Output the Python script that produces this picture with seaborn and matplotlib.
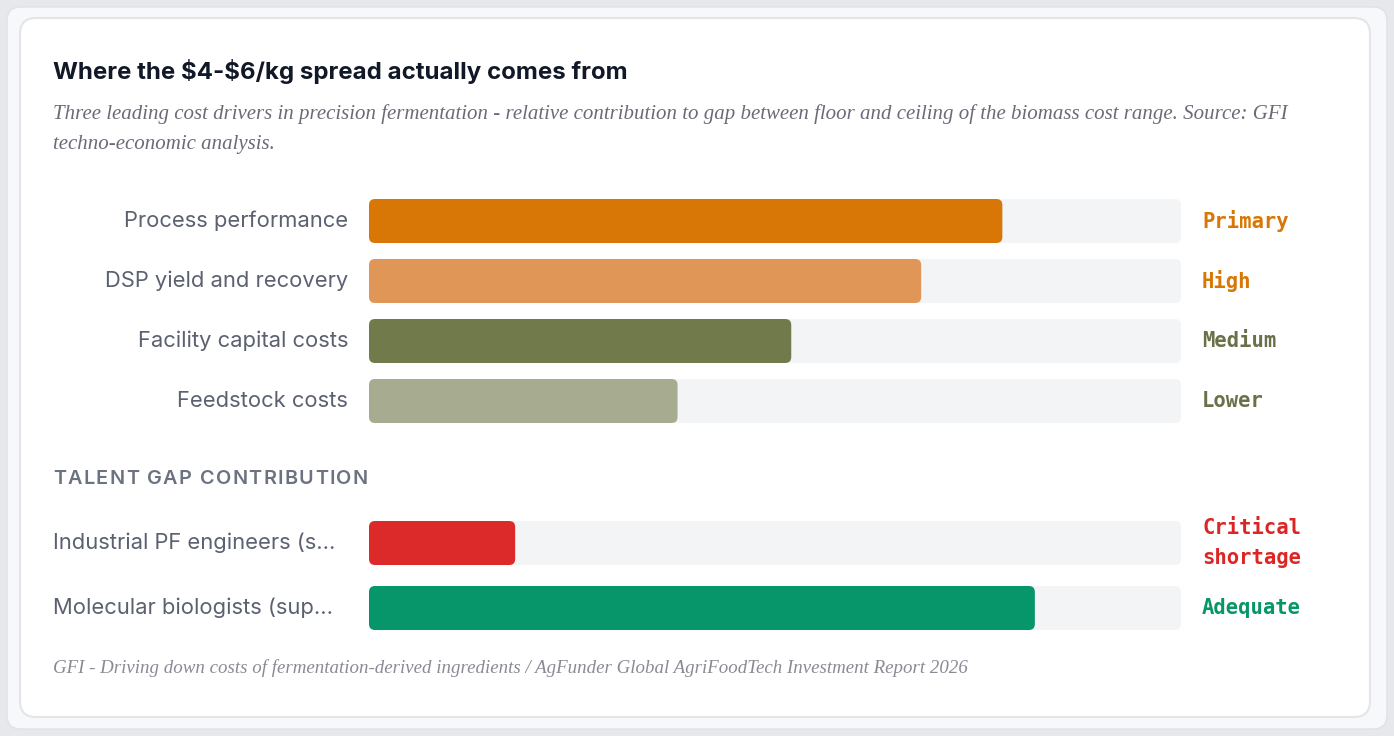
import numpy as np
import pandas as pd
import matplotlib
matplotlib.use("Agg")
import matplotlib.pyplot as plt
import seaborn as sns
from matplotlib.patches import FancyBboxPatch

# chart data
drivers = ["Process performance", "DSP yield and recovery", "Facility capital costs", "Feedstock costs"]
driver_values = [78, 68, 52, 38]
driver_levels = ["Primary", "High", "Medium", "Lower"]
driver_colors = ["#d97706", "#e09657", "#717a4a", "#a7ab8f"]
driver_level_colors = ["#d97706", "#d97706", "#6b7048", "#6b7048"]

talent = ["Industrial PF engineers (s...", "Molecular biologists (sup..."]
talent_values = [18, 82]
talent_levels = ["Critical\nshortage", "Adequate"]
talent_colors = ["#dc2a2a", "#079669"]
talent_level_colors = ["#dc2626", "#079669"]

title = r"Where the \$4-\$6/kg spread actually comes from"
subtitle_1 = ("Three leading cost drivers in precision fermentation - relative contribution to gap "
              "between floor and ceiling of the biomass cost range. Source: GFI")
subtitle_2 = "techno-economic analysis."
section = "TALENT GAP CONTRIBUTION"
footer = "GFI - Driving down costs of fermentation-derived ingredients / AgFunder Global AgriFoodTech Investment Report 2026"

W, H = 1394, 736
TRACK = "#f3f4f6"
SANS = ["Inter", "DejaVu Sans"]
SERIF = ["Liberation Serif", "DejaVu Serif"]
MONO = ["DejaVu Sans Mono"]

sns.set_theme(style="white")
plt.rcParams["font.family"] = SANS

fig = plt.figure(figsize=(W / 100, H / 100), dpi=100)
fig.patch.set_facecolor("#e6e8eb")

# background layer in pixel coordinates
bg = fig.add_axes([0, 0, 1, 1], zorder=0)
bg.set_xlim(0, W)
bg.set_ylim(H, 0)
bg.axis("off")
bg.add_patch(FancyBboxPatch((7, 7), W - 14, H - 14, boxstyle="round,pad=0,rounding_size=14",
                            fc="#f7f8f9", ec="#dfe2e6", lw=1))
bg.add_patch(FancyBboxPatch((20, 18), 1350, 699, boxstyle="round,pad=0,rounding_size=16",
                            fc="white", ec="#e3e5e8", lw=1.5))

bg.text(53, 71, title, fontsize=17.3, fontweight="bold", color="#111827", va="center")
bg.text(53, 114, subtitle_1, fontsize=15, style="italic", family=SERIF, color="#6b6b78", va="center")
bg.text(53, 145, subtitle_2, fontsize=15, style="italic", family=SERIF, color="#6b6b78", va="center")
bg.text(53, 668, footer, fontsize=13.6, style="italic", family=SERIF, color="#8a8a94", va="center")

# letter-spaced section header
renderer = fig.canvas.get_renderer()


def text_width(s, **kw):
    t = bg.text(0, 0, s + "x", **kw)
    w1 = t.get_window_extent(renderer).width
    t.remove()
    t = bg.text(0, 0, "x", **kw)
    w2 = t.get_window_extent(renderer).width
    t.remove()
    return w1 - w2


sec_kw = dict(fontsize=14.3, fontweight="semibold", color="#6b7280")
natural = text_width(section, **sec_kw)
spacing = (315 - natural) / (len(section) - 1)
for i, ch in enumerate(section):
    x = 53 + text_width(section[:i], **sec_kw) + i * spacing if i else 53
    bg.text(x, 479, ch, va="center", **sec_kw)


def rounded(ax, px_per_y, radius=6):
    px_per_x = 812 / 100
    r = radius / px_per_x
    aspect = px_per_x / px_per_y
    for p in list(ax.patches):
        x0, y0, w, h = p.get_x(), p.get_y(), p.get_width(), p.get_height()
        fc = p.get_facecolor()
        z = p.get_zorder()
        p.remove()
        ax.add_patch(FancyBboxPatch((x0, y0), w, h, boxstyle=f"round,pad=0,rounding_size={r}",
                                    mutation_aspect=aspect, fc=fc, ec="none", zorder=z))


def bar_block(labels, values, colors, top_px, step_px, bar_px):
    n = len(labels)
    bottom_px = top_px + n * step_px
    ax = fig.add_axes([369 / W, 1 - bottom_px / H, 812 / W, n * step_px / H], zorder=2)
    ax.patch.set_alpha(0)
    df = pd.DataFrame({"label": labels, "value": values, "track": [100] * n})
    width = bar_px / step_px
    sns.barplot(data=df, x="track", y="label", color=TRACK, saturation=1, width=width, ax=ax)
    sns.barplot(data=df, x="value", y="label", hue="label", palette=colors, saturation=1,
                width=width, legend=False, ax=ax)
    ax.set_xlim(0, 100)
    ax.set_ylim(n - 0.5, -0.5)
    ax.axis("off")
    rounded(ax, step_px)
    return ax


bar_block(drivers, driver_values, driver_colors, 191, 60, 44)
bar_block(talent, talent_values, talent_colors, 510.5, 65, 44)

# row labels and level tags
for i, (lab, lev, c) in enumerate(zip(drivers, driver_levels, driver_level_colors)):
    y = 221 + 60 * i
    bg.text(348, y, lab, fontsize=15.8, color="#5b6170", ha="right", va="center")
    bg.text(1202, y, lev, fontsize=14.8, family=MONO, fontweight="bold", color=c, va="center")

for i, (lab, lev, c) in enumerate(zip(talent, talent_levels, talent_level_colors)):
    y = 543 + 65 * i
    bg.text(53, y, lab, fontsize=15.8, color="#5b6170", ha="left", va="center")
    bg.text(1202, y, lev, fontsize=14.8, family=MONO, fontweight="bold", color=c, va="center",
            linespacing=1.6)

fig.savefig("out.png", dpi=100, facecolor=fig.get_facecolor())
